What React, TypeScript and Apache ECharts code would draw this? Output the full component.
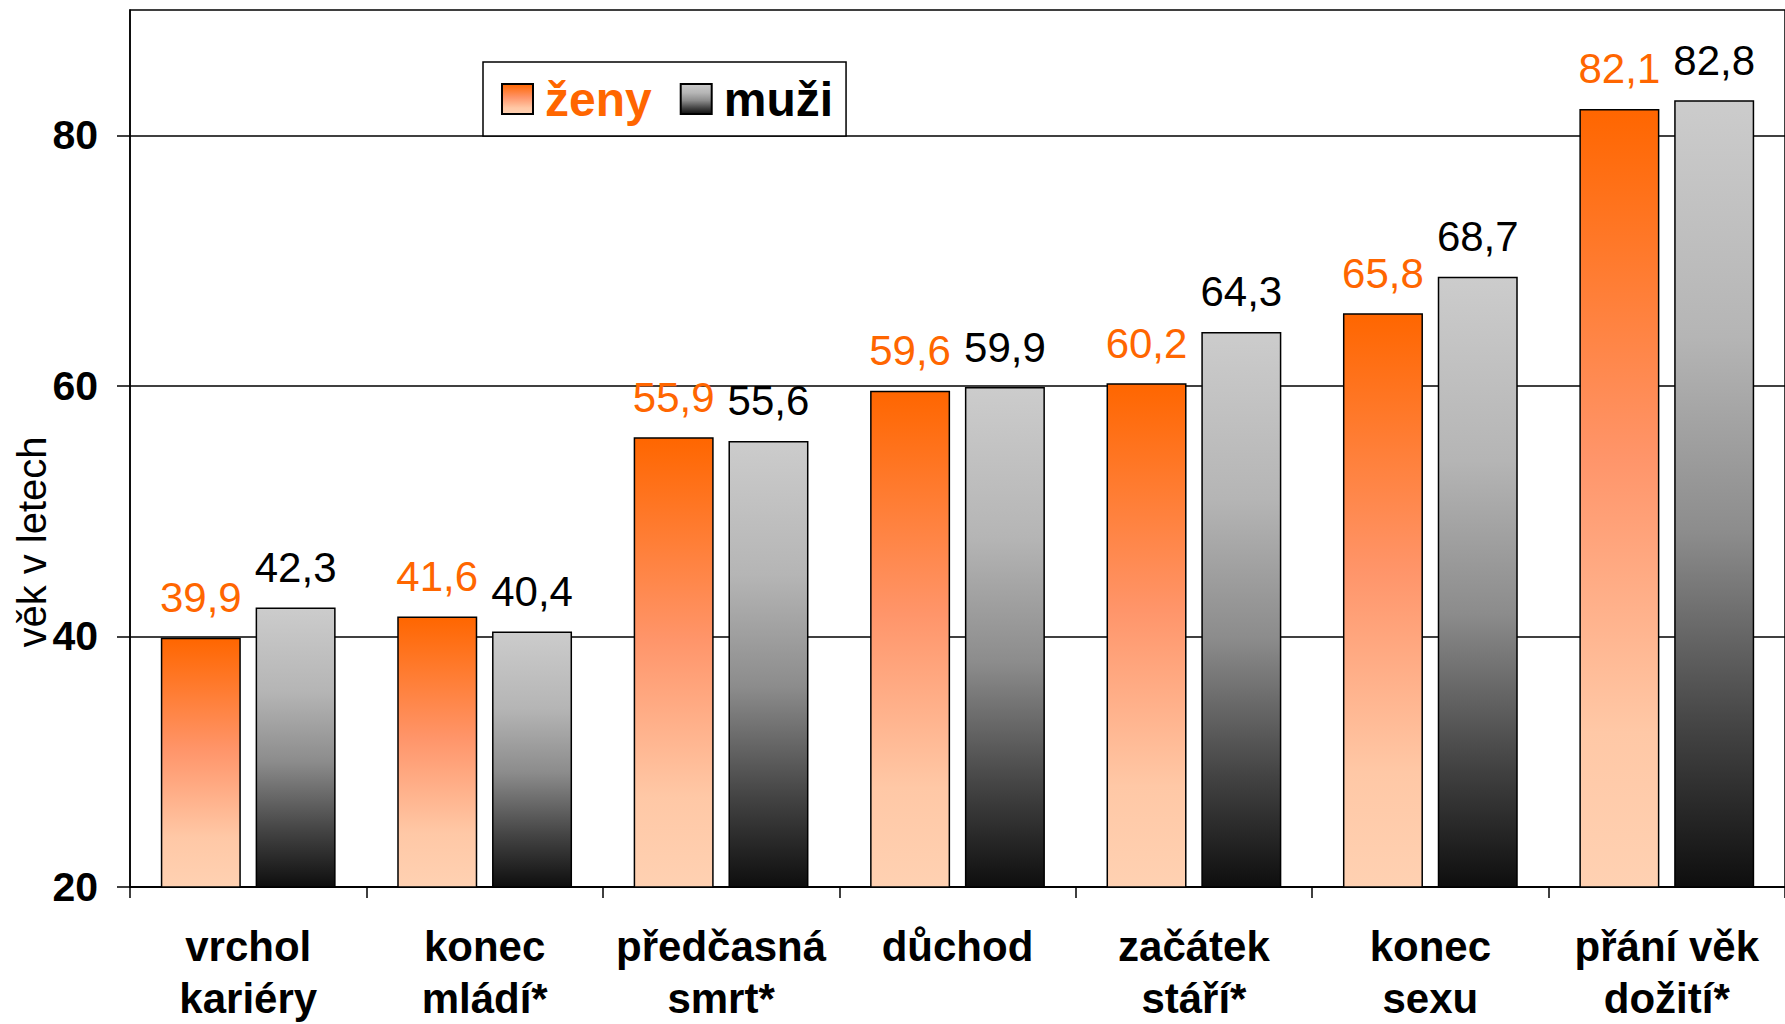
import React, { useEffect, useRef } from "react";
import * as echarts from "echarts";

const categories = [
  "vrchol\nkariéry",
  "konec\nmládí*",
  "předčasná\nsmrt*",
  "důchod",
  "začátek\nstáří*",
  "konec\nsexu",
  "přání věk\ndožití*",
];
const zenyValues = [39.9, 41.6, 55.9, 59.6, 60.2, 65.8, 82.1];
const muziValues = [42.3, 40.4, 55.6, 59.9, 64.3, 68.7, 82.8];
const yTicks = [20, 40, 60, 80];
const seriesNames = ["ženy", "muži"];
const yName = "věk v letech";

const FONT = "'Liberation Sans', Arial, sans-serif";

export default function App() {
  const ref = useRef<HTMLDivElement>(null);
  useEffect(() => {
    if (!ref.current) return;
    const chart = echarts.init(ref.current, null, { renderer: "svg" });
    const orangeGrad = new echarts.graphic.LinearGradient(0, 0, 0, 1, [
      { offset: 0, color: "#FF6600" },
      { offset: 0.45, color: "#FF956A" },
      { offset: 0.8, color: "#FFC8A6" },
      { offset: 1, color: "#FFD1B2" },
    ]);
    const grayGrad = new echarts.graphic.LinearGradient(0, 0, 0, 1, [
      { offset: 0, color: "#CCCCCC" },
      { offset: 0.3, color: "#B5B5B5" },
      { offset: 0.55, color: "#8C8C8C" },
      { offset: 0.8, color: "#434343" },
      { offset: 1, color: "#0E0E0E" },
    ]);
    const fmt = (p: any) => String(p.value).replace(".", ",");
    chart.setOption({
      animation: false,
      backgroundColor: "#fff",
      textStyle: { fontFamily: FONT },
      grid: {
        left: 130,
        top: 10,
        width: 1657,
        height: 880,
        show: true,
        borderColor: "#000",
        borderWidth: 1.5,
        containLabel: false,
      },
      legend: {
        left: 483,
        top: 62,
        orient: "horizontal",
        icon: "rect",
        itemWidth: 31,
        itemHeight: 30,
        itemGap: 28,
        padding: [10, 13, 10, 18],
        borderColor: "#000",
        borderWidth: 1.5,
        backgroundColor: "#fff",
        textStyle: {
          fontFamily: FONT,
          fontSize: 48,
          fontWeight: "bold",
          lineHeight: 54,
          padding: [0, 0, 0, 7],
        },
        data: [
          { name: seriesNames[0], textStyle: { color: "#FF6600" } },
          { name: seriesNames[1], textStyle: { color: "#000000" } },
        ],
      },
      xAxis: {
        type: "category",
        data: categories,
        axisLine: { show: true, lineStyle: { color: "#000", width: 1.5 } },
        axisTick: { show: true, length: 11, lineStyle: { color: "#000", width: 1.5 } },
        axisLabel: {
          interval: 0,
          margin: 33,
          color: "#000",
          fontFamily: FONT,
          fontSize: 42,
          fontWeight: "bold",
          lineHeight: 52,
          verticalAlign: "top",
        },
        splitLine: { show: false },
      },
      yAxis: {
        type: "value",
        min: 20,
        max: 90,
        interval: 20,
        axisLine: { show: true, lineStyle: { color: "#000", width: 1.5 } },
        axisTick: {
          show: true,
          length: 13,
          customValues: yTicks,
          lineStyle: { color: "#000", width: 1.5 },
        },
        axisLabel: {
          customValues: yTicks,
          margin: 32,
          color: "#000",
          fontFamily: FONT,
          fontSize: 41,
          fontWeight: "bold",
        },
        splitLine: { show: true, lineStyle: { color: "#000", width: 1.5 } },
      },
      graphic: [
        {
          type: "text",
          x: 32,
          y: 542,
          rotation: Math.PI / 2,
          style: {
            text: yName,
            fontFamily: FONT,
            fontSize: 40,
            fill: "#000",
            textAlign: "center",
            textVerticalAlign: "middle",
          },
        },
      ],
      series: [
        {
          name: seriesNames[0],
          type: "bar",
          data: zenyValues,
          barWidth: 80,
          barGap: "18.5%",
          itemStyle: { color: orangeGrad, borderColor: "#000", borderWidth: 1.5 },
          label: {
            show: true,
            position: "top",
            distance: 19,
            formatter: fmt,
            color: "#FF6600",
            fontFamily: FONT,
            fontSize: 42,
            lineHeight: 42,
          },
        },
        {
          name: seriesNames[1],
          type: "bar",
          data: muziValues,
          barWidth: 80,
          barGap: "18.5%",
          itemStyle: { color: grayGrad, borderColor: "#000", borderWidth: 1.5 },
          label: {
            show: true,
            position: "top",
            distance: 19,
            formatter: fmt,
            color: "#000",
            fontFamily: FONT,
            fontSize: 42,
            lineHeight: 42,
          },
        },
      ],
    });
    return () => chart.dispose();
  }, []);
  return (
    <div
      ref={ref}
      style={{ position: "fixed", left: 0, top: 0, width: 1785, height: 1024 }}
    />
  );
}
